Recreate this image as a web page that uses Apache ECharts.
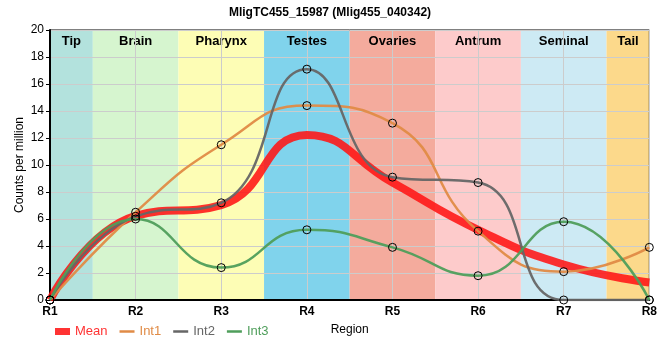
<!DOCTYPE html>
<html><head><meta charset="utf-8">
<script src="https://cdn.jsdelivr.net/npm/echarts@6/dist/echarts.min.js"></script>
<style>html,body{margin:0;padding:0;background:#fff}#c{width:660px;height:360px}</style>
</head><body><div id="c"></div>
<script>
const regions = ['R1','R2','R3','R4','R5','R6','R7','R8'];
const int1 = [0, 6.5, 11.5, 14.4, 13.1, 5.1, 2.1, 3.9];
const int2 = [0, 6.2, 7.2, 17.1, 9.1, 8.7, 0, 0];
const int3 = [0, 6.0, 2.4, 5.2, 3.9, 1.8, 5.8, 0];
const meanVals = [0, 6.23, 7.03, 12.23, 8.7, 5.2, 2.63, 1.3];
const bandNames = ['Tip','Brain','Pharynx','Testes','Ovaries','Antrum','Seminal','Tail'];
const bandStart = [1, 1.5, 2.5, 3.5, 4.5, 5.5, 6.5, 7.5];
const bandEnd = [1.5, 2.5, 3.5, 4.5, 5.5, 6.5, 7.5, 8];
const bandColors = ['#b3e2dd','#d6f5cf','#fdfdb5','#80d3ec','#f4ab9d','#fdcbcb','#cdeaf4','#fcd98b'];
const yTicks = [0,2,4,6,8,10,12,14,16,18,20];

function pts(arr){ return arr.map((v,i)=>[i+1, v]); }

const markData = bandNames.map((n,i)=>[
  {name:n, xAxis:bandStart[i], itemStyle:{color:bandColors[i]}},
  {xAxis:bandEnd[i]}
]);

const lineCommon = {
  type:'line', smooth:0.5, symbol:'circle', symbolSize:8,
  itemStyle:{color:'rgba(0,0,0,0)', borderColor:'#000', borderWidth:1},
  emphasis:{disabled:true}, z:3
};
const thin = 'path://M0,0h15v2.5h-15z';

const chart = echarts.init(document.getElementById('c'));
chart.setOption({
  animation:false,
  title:{text:'MligTC455_15987 (Mlig455_040342)', left:'center', top:2,
    textStyle:{fontSize:12, fontWeight:'bold', color:'#000', fontFamily:'Liberation Sans'}},
  grid:{left:50, right:10, top:30, bottom:60, show:true, borderColor:'#000', borderWidth:1},
  legend:{left:50, top:320, itemWidth:15, itemHeight:7, itemGap:12,
    textStyle:{fontSize:13, fontFamily:'Liberation Sans'},
    data:[
      {name:'Mean', icon:'rect', itemStyle:{color:'#ff3333', borderWidth:0}, textStyle:{color:'#ff3333'}},
      {name:'Int1', icon:thin, itemStyle:{color:'#e08b46', borderWidth:0}, textStyle:{color:'#e08b46'}},
      {name:'Int2', icon:thin, itemStyle:{color:'#666666', borderWidth:0}, textStyle:{color:'#666666'}},
      {name:'Int3', icon:thin, itemStyle:{color:'#4f9e5b', borderWidth:0}, textStyle:{color:'#4f9e5b'}}
    ]},
  xAxis:{type:'value', min:1, max:8, interval:1,
    name:'Region', nameLocation:'middle', nameGap:24,
    nameTextStyle:{fontSize:12, color:'#000', fontFamily:'Liberation Sans'},
    axisLine:{lineStyle:{color:'#000', width:2}},
    axisTick:{show:false},
    axisLabel:{formatter:v=>regions[v-1], fontWeight:'bold', color:'#000', fontSize:12, margin:6, fontFamily:'Liberation Sans'},
    splitLine:{show:true, lineStyle:{color:'#cccccc'}}},
  yAxis:{type:'value', min:0, max:20, interval:2,
    name:'Counts per million', nameLocation:'middle', nameGap:24, nameMoveOverlap:false,
    nameTextStyle:{fontSize:12, color:'#000', fontFamily:'Liberation Sans'},
    axisLine:{show:true, lineStyle:{color:'#000', width:2}},
    axisTick:{show:true, length:4, lineStyle:{color:'#000'}},
    axisLabel:{color:'#000', fontSize:12, margin:6, fontFamily:'Liberation Sans',
      formatter:v=>yTicks.includes(v)?String(v):''},
    splitLine:{show:true, lineStyle:{color:'#cccccc'}}},
  series:[
    {name:'Mean', type:'line', smooth:0.5, showSymbol:false, data:pts(meanVals),
      lineStyle:{color:'rgba(255,20,20,0.88)', width:8}, itemStyle:{color:'#ff3333'},
      emphasis:{disabled:true}, z:2,
      markArea:{silent:true, z:-1,
        label:{position:'insideTop', color:'#000', fontWeight:'bold', fontSize:13, distance:5, fontFamily:'Liberation Sans'},
        data:markData}},
    Object.assign({}, lineCommon, {name:'Int1', data:pts(int1), lineStyle:{color:'rgba(224,139,70,0.95)', width:2.5}}),
    Object.assign({}, lineCommon, {name:'Int2', data:pts(int2), lineStyle:{color:'rgba(102,102,102,0.95)', width:2.5}}),
    Object.assign({}, lineCommon, {name:'Int3', data:pts(int3), lineStyle:{color:'rgba(79,158,91,0.95)', width:2.5}})
  ]
});
</script></body></html>
